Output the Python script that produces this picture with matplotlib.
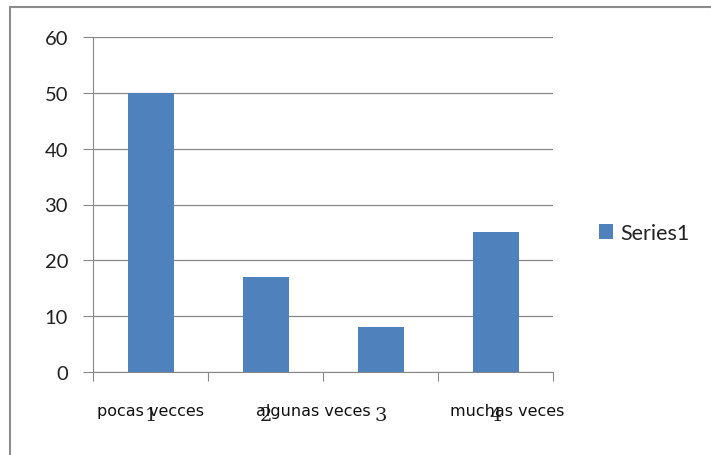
import matplotlib.pyplot as plt
from matplotlib.patches import Rectangle

categories = [1, 2, 3, 4]
values = [50, 17, 8, 25]
labels = ['pocas vecces', 'algunas veces', 'muchas veces']
label_pos = [1, 2.42, 4.1]
series_name = 'Series1'

plt.rcParams['font.family'] = ['Lato', 'DejaVu Sans']

fig = plt.figure(figsize=(7.11, 4.56), dpi=100)
ax = fig.add_axes([93 / 711, 83 / 456, 460 / 711, 335 / 456])

# outer chart frame
fig.patches.append(Rectangle((10 / 711, -0.1), 1.2, (448 / 456) + 0.1,
                             transform=fig.transFigure, fill=False,
                             edgecolor='#8c8c8c', linewidth=1.5))

bars = ax.bar(categories, values, width=0.4, color='#4f81bd', zorder=3,
              label=series_name)
ax.set_xlim(0.5, 4.5)
ax.set_ylim(0, 60)
ax.set_yticks(range(0, 61, 10))
ax.yaxis.grid(True, color='#888888', linewidth=0.9, zorder=0)

ax.set_xticks([0.5, 1.5, 2.5, 3.5, 4.5])
ax.set_xticklabels([])
ax.tick_params(axis='x', length=6.5, color='#888888', direction='out')
ax.tick_params(axis='y', length=7, color='#888888', labelsize=14.5, pad=11,
               labelcolor='#222222')

for s in ['top', 'right']:
    ax.spines[s].set_visible(False)
ax.spines['left'].set_color('#888888')
ax.spines['bottom'].set_color('#888888')

# category numbers and overlapping text labels
for c in categories:
    ax.annotate(str(c), xy=(c, 0), xycoords=('data', 'axes fraction'),
                xytext=(0, -31), textcoords='offset points', ha='center',
                va='center', fontsize=14, color='#222222',
                family=['DejaVu Serif'])
for lab, p in zip(labels, label_pos):
    ax.annotate(lab, xy=(p, 0), xycoords=('data', 'axes fraction'),
                xytext=(0, -28), textcoords='offset points', ha='center',
                va='center', fontsize=11.5, color='#111111',
                family=['DejaVu Sans'])

fig.legend(handles=[bars], labels=[series_name], loc='center left',
           bbox_to_anchor=(580 / 711, 1 - 234 / 456), frameon=False,
           fontsize=15.5, handlelength=0.65, handleheight=0.65, handletextpad=0.3,
           labelcolor='#222222')

fig.savefig('out.png', dpi=100)
